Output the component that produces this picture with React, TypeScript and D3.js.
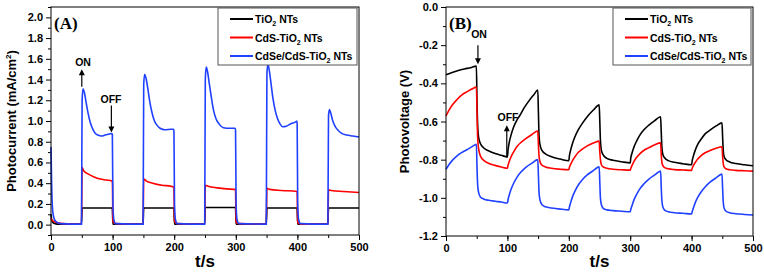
import React, { useEffect, useRef } from 'react';
import * as d3 from 'd3';

type Pt = [number, number];

const seriesNames = ['TiO2 NTs', 'CdS-TiO2 NTs', 'CdSe/CdS-TiO2 NTs'];
const seriesColors = ['#000000', '#ff0000', '#1f40ff'];

// Panel A: photocurrent (mA/cm2) vs t/s
const currentTiO2: Pt[] = [
  [0, 0.1], [1, 0.05], [3, 0.02], [6, 0.01], [10, 0.005], [49.5, 0.005], [50.5, 0.16], [99.5, 0.16],
  [100.5, 0.005], [149.5, 0.005], [150.5, 0.16], [199.5, 0.16], [200.5, 0.005], [249.5, 0.005],
  [250.5, 0.165], [299.5, 0.165], [300.5, 0.005], [349.5, 0.005], [350.5, 0.16], [399.5, 0.16],
  [400.5, 0.005], [449.5, 0.005], [450.5, 0.16], [500, 0.16],
];
const currentCdS: Pt[] = [
  [0, 0.06], [2, 0.04], [5, 0.03], [10, 0.02], [20, 0.01], [49.5, 0.005], [50.5, 0.55], [53, 0.52],
  [60, 0.49], [70, 0.46], [80, 0.44], [90, 0.43], [99, 0.42], [99.7, 0.41], [100.5, 0.03], [105, 0.01],
  [149.5, 0.005], [150.5, 0.44], [155, 0.42], [165, 0.4], [180, 0.38], [195, 0.37], [199.5, 0.36],
  [200.5, 0.03], [205, 0.01], [249.5, 0.005], [250.5, 0.38], [255, 0.37], [270, 0.355], [285, 0.345],
  [299.5, 0.34], [300.5, 0.02], [305, 0.01], [349.5, 0.005], [350.5, 0.35], [355, 0.34], [375, 0.33],
  [399.5, 0.32], [400.5, 0.02], [405, 0.005], [449.5, 0.005], [450.5, 0.335], [455, 0.33], [475, 0.32],
  [500, 0.31],
];
const currentCdSe: Pt[] = [
  [0, 0.75], [1, 0.4], [2, 0.2], [3, 0.12], [5, 0.06], [8, 0.03], [15, 0.01], [49.5, 0.005],
  [50.5, 1.2], [52, 1.31], [54, 1.28], [57, 1.18], [60, 1.08], [64, 0.98], [68, 0.92], [72, 0.88],
  [76, 0.865], [82, 0.855], [88, 0.865], [95, 0.875], [99, 0.88], [99.6, 0.87], [100.5, 0.2], [102, 0.05],
  [105, 0.01], [149.5, 0.005], [150.5, 1.35], [152, 1.45], [154, 1.42], [157, 1.32], [160, 1.2],
  [164, 1.08], [168, 1.0], [172, 0.96], [177, 0.93], [185, 0.915], [195, 0.92], [199, 0.92],
  [199.6, 0.9], [200.5, 0.2], [202, 0.05], [205, 0.01], [249.5, 0.005], [250.5, 1.4], [252, 1.52],
  [254, 1.48], [257, 1.36], [260, 1.24], [264, 1.1], [268, 1.02], [273, 0.97], [280, 0.935],
  [290, 0.93], [299, 0.93], [299.6, 0.91], [300.5, 0.2], [302, 0.05], [305, 0.01], [349.5, 0.005],
  [350.5, 1.45], [352, 1.55], [354, 1.5], [357, 1.37], [360, 1.23], [364, 1.1], [368, 1.02],
  [372, 0.97], [376, 0.945], [382, 0.95], [390, 0.975], [398, 0.995], [399, 1.0], [399.6, 0.98],
  [400.5, 0.2], [402, 0.05], [405, 0.01], [449.5, 0.005], [450.5, 1.05], [452, 1.11], [454, 1.08],
  [457, 1.01], [461, 0.95], [466, 0.91], [472, 0.88], [480, 0.865], [490, 0.855], [500, 0.845],
];

// Panel B: photovoltage (V) vs t/s
const voltageTiO2: Pt[] = [
  [0, -0.355], [10, -0.343], [20, -0.333], [30, -0.325], [40, -0.318], [49.5, -0.31],
  [50.5, -0.5], [51.5, -0.62], [53, -0.68], [56, -0.715], [62, -0.74], [70, -0.755], [80, -0.768], [90, -0.777], [100, -0.785],
  [101, -0.75], [103, -0.71], [106, -0.67], [110, -0.63], [115, -0.595], [120, -0.57], [128, -0.525], [136, -0.488], [143, -0.46], [149.5, -0.435],
  [150.5, -0.55], [151.5, -0.67], [153, -0.72], [156, -0.75], [162, -0.77], [172, -0.785], [186, -0.797], [200, -0.806],
  [201, -0.78], [203, -0.75], [206, -0.715], [210, -0.68], [216, -0.64], [222, -0.61], [230, -0.575], [240, -0.54], [249.5, -0.513],
  [250.5, -0.6], [251.5, -0.7], [253, -0.75], [256, -0.775], [262, -0.793], [272, -0.803], [286, -0.811], [300, -0.817],
  [301, -0.79], [303, -0.765], [306, -0.735], [310, -0.705], [316, -0.67], [322, -0.645], [330, -0.62], [340, -0.595], [349.5, -0.575],
  [350.5, -0.65], [351.5, -0.73], [353, -0.77], [356, -0.79], [362, -0.805], [372, -0.814], [386, -0.821], [400, -0.827],
  [401, -0.805], [403, -0.78], [406, -0.75], [410, -0.72], [416, -0.69], [422, -0.665], [430, -0.645], [440, -0.623], [449.5, -0.607],
  [450.5, -0.68], [451.5, -0.75], [453, -0.785], [456, -0.8], [462, -0.812], [472, -0.82], [486, -0.827], [500, -0.832],
];
const voltageCdS: Pt[] = [
  [0, -0.57], [5, -0.54], [10, -0.515], [18, -0.485], [26, -0.46], [34, -0.445], [42, -0.43], [49.5, -0.42],
  [50.5, -0.55], [51.5, -0.68], [53, -0.74], [56, -0.78], [62, -0.805], [70, -0.82], [80, -0.83], [90, -0.838], [100, -0.845],
  [101, -0.83], [103, -0.81], [106, -0.785], [110, -0.76], [116, -0.73], [122, -0.71], [130, -0.69], [140, -0.668], [149.5, -0.65],
  [150.5, -0.72], [151.5, -0.78], [153, -0.81], [156, -0.828], [162, -0.838], [172, -0.845], [186, -0.85], [200, -0.853],
  [201, -0.84], [203, -0.825], [206, -0.805], [210, -0.785], [216, -0.76], [222, -0.745], [230, -0.728], [240, -0.713], [249.5, -0.703],
  [250.5, -0.76], [251.5, -0.8], [253, -0.825], [256, -0.838], [262, -0.845], [272, -0.85], [286, -0.853], [300, -0.855],
  [301, -0.845], [303, -0.83], [306, -0.81], [310, -0.79], [316, -0.768], [322, -0.752], [330, -0.738], [340, -0.722], [349.5, -0.712],
  [350.5, -0.77], [351.5, -0.81], [353, -0.83], [356, -0.842], [362, -0.848], [372, -0.852], [386, -0.854], [400, -0.856],
  [401, -0.845], [403, -0.83], [406, -0.815], [410, -0.797], [416, -0.778], [422, -0.764], [430, -0.752], [440, -0.74], [449.5, -0.732],
  [450.5, -0.78], [451.5, -0.82], [453, -0.838], [456, -0.848], [462, -0.853], [472, -0.856], [486, -0.858], [500, -0.86],
];
const voltageCdSe: Pt[] = [
  [0, -0.85], [5, -0.825], [10, -0.805], [18, -0.78], [26, -0.762], [34, -0.748], [42, -0.733], [49.5, -0.72],
  [50.5, -0.84], [51.5, -0.93], [53, -0.97], [56, -0.995], [62, -1.007], [70, -1.013], [80, -1.018], [90, -1.022], [100, -1.027],
  [101, -1.01], [103, -0.985], [106, -0.955], [110, -0.925], [116, -0.89], [122, -0.865], [130, -0.84], [140, -0.818], [149.5, -0.8],
  [150.5, -0.88], [151.5, -0.97], [153, -1.01], [156, -1.035], [162, -1.047], [172, -1.053], [186, -1.059], [200, -1.063],
  [201, -1.048], [203, -1.025], [206, -0.995], [210, -0.965], [216, -0.93], [222, -0.905], [230, -0.88], [240, -0.857], [249.5, -0.838],
  [250.5, -0.92], [251.5, -1.0], [253, -1.035], [256, -1.055], [262, -1.063], [272, -1.067], [286, -1.07], [300, -1.073],
  [301, -1.06], [303, -1.04], [306, -1.012], [310, -0.985], [316, -0.952], [322, -0.928], [330, -0.903], [340, -0.88], [349.5, -0.86],
  [350.5, -0.94], [351.5, -1.01], [353, -1.045], [356, -1.065], [362, -1.073], [372, -1.078], [386, -1.081], [400, -1.085],
  [401, -1.072], [403, -1.052], [406, -1.025], [410, -0.998], [416, -0.967], [422, -0.943], [430, -0.918], [440, -0.895], [449.5, -0.876],
  [450.5, -0.95], [451.5, -1.02], [453, -1.055], [456, -1.07], [462, -1.078], [472, -1.083], [486, -1.087], [500, -1.09],
];

const xTicks = [0, 100, 200, 300, 400, 500];
const xMinorTicks = [0, 50, 100, 150, 200, 250, 300, 350, 400, 450, 500];
const currentTicks = [0, 0.2, 0.4, 0.6, 0.8, 1.0, 1.2, 1.4, 1.6, 1.8, 2.0];
const currentMinorTicks = [-0.1, 0.1, 0.3, 0.5, 0.7, 0.9, 1.1, 1.3, 1.5, 1.7, 1.9, 2.1];
const voltageTicks = [0, -0.2, -0.4, -0.6, -0.8, -1.0, -1.2];
const voltageMinorTicks = [-0.1, -0.3, -0.5, -0.7, -0.9, -1.1];

interface Arrow { t: number; v0: number; v1: number; tx: number; ty: number }
interface PanelCfg {
  left: number; right: number; top: number; bottom: number;
  yDomain: [number, number];
  yTicks: number[]; yMinor: number[];
  yTitle: string; yTitleX: number;
  label: string;
  series: Pt[][];
  legendX: number;
  onArrow: Arrow;
  offArrow: Arrow;
}

const FONT = 'Liberation Sans, Arial, sans-serif';

const drawPanel = (svg: d3.Selection<SVGSVGElement, unknown, null, undefined>, c: PanelCfg) => {
  const x = d3.scaleLinear().domain([0, 500]).range([c.left, c.right]);
  const y = d3.scaleLinear().domain(c.yDomain).range([c.bottom, c.top]);
  const g = svg.append('g');

  // minor ticks
  g.append('g').attr('transform', `translate(0,${c.bottom})`)
    .call(d3.axisBottom(x).tickValues(xMinorTicks).tickSize(3).tickFormat(() => ''))
    .call(a => a.select('.domain').remove());
  g.append('g').attr('transform', `translate(${c.left},0)`)
    .call(d3.axisLeft(y).tickValues(c.yMinor).tickSize(3).tickFormat(() => ''))
    .call(a => a.select('.domain').remove());

  // major ticks
  const xa = g.append('g').attr('transform', `translate(0,${c.bottom})`)
    .call(d3.axisBottom(x).tickValues(xTicks).tickSize(5).tickPadding(3).tickFormat(d => String(d)));
  xa.select('.domain').remove();
  const ya = g.append('g').attr('transform', `translate(${c.left},0)`)
    .call(d3.axisLeft(y).tickValues(c.yTicks).tickSize(5).tickPadding(3).tickFormat(d => (+d).toFixed(1)));
  ya.select('.domain').remove();
  g.selectAll('.tick text').attr('font-family', FONT).attr('font-weight', 'bold').attr('font-size', 11).attr('fill', '#000');
  g.selectAll('.tick line').attr('stroke', '#000').attr('stroke-width', 1);

  // lines
  const line = d3.line<Pt>().x(d => x(d[0])).y(d => y(d[1])).curve(d3.curveMonotoneX);
  c.series.forEach((s, i) => {
    g.append('path').attr('d', line(s) as string).attr('fill', 'none')
      .attr('stroke', seriesColors[i]).attr('stroke-width', 1.6);
  });

  // frame
  g.append('rect').attr('x', c.left).attr('y', c.top)
    .attr('width', c.right - c.left).attr('height', c.bottom - c.top)
    .attr('fill', 'none').attr('stroke', '#000').attr('stroke-width', 1);

  // titles
  g.append('text').attr('x', (c.left + c.right) / 2).attr('y', 267)
    .attr('text-anchor', 'middle').attr('font-family', FONT).attr('font-weight', 'bold')
    .attr('font-size', 17).text('t/s');
  const yt = g.append('text')
    .attr('transform', `translate(${c.yTitleX},${(c.top + c.bottom) / 2}) rotate(-90)`)
    .attr('text-anchor', 'middle').attr('font-family', FONT).attr('font-weight', 'bold')
    .attr('font-size', 13);
  if (c.yTitle === 'current') {
    yt.append('tspan').text('Photocurrent (mA/cm');
    yt.append('tspan').attr('font-size', 8).attr('dy', -5).text('2');
    yt.append('tspan').attr('dy', 5).text(')');
  } else {
    yt.text(c.yTitle);
  }
  g.append('text').attr('x', c.left + 3).attr('y', c.top + 22)
    .attr('font-family', 'Liberation Serif, Times New Roman, serif').attr('font-weight', 'bold')
    .attr('font-size', 17).text(c.label);

  // legend
  const lx = c.legendX, lw = c.right - 2 - lx;
  g.append('rect').attr('x', lx).attr('y', c.top + 1).attr('width', lw).attr('height', 57)
    .attr('fill', '#fff').attr('stroke', '#555').attr('stroke-width', 1);
  seriesNames.forEach((name, i) => {
    const ry = c.top + 12 + i * 18.5;
    g.append('line').attr('x1', lx + 12).attr('x2', lx + 35).attr('y1', ry).attr('y2', ry)
      .attr('stroke', seriesColors[i]).attr('stroke-width', 2);
    const t = g.append('text').attr('x', lx + 37).attr('y', ry + 4)
      .attr('font-family', FONT).attr('font-weight', 'bold').attr('font-size', 10.5);
    const [pre, post] = name.split('2');
    t.append('tspan').text(pre);
    t.append('tspan').attr('font-size', 7).attr('dy', 3).text('2');
    t.append('tspan').attr('dy', -3).text(post);
  });

  // annotations
  const arrow = (a: Arrow, text: string) => {
    const ax = x(a.t), y0 = y(a.v0), y1 = y(a.v1);
    const dir = y1 > y0 ? 1 : -1;
    g.append('line').attr('x1', ax).attr('x2', ax).attr('y1', y0).attr('y2', y1 - dir * 5)
      .attr('stroke', '#000').attr('stroke-width', 1.2);
    g.append('path')
      .attr('d', `M${ax - 3},${y1 - dir * 6}L${ax + 3},${y1 - dir * 6}L${ax},${y1}Z`)
      .attr('fill', '#000');
    g.append('text').attr('x', a.tx).attr('y', a.ty).attr('text-anchor', 'middle')
      .attr('font-family', FONT).attr('font-weight', 'bold').attr('font-size', 10.5).text(text);
  };
  arrow(c.onArrow, 'ON');
  arrow(c.offArrow, 'OFF');
};

const App = () => {
  const ref = useRef<SVGSVGElement | null>(null);

  useEffect(() => {
    if (!ref.current) return;
    const svg = d3.select(ref.current);
    svg.selectAll('*').remove();
    svg.append('rect').attr('width', 764).attr('height', 273).attr('fill', '#fff');

    drawPanel(svg, {
      left: 51, right: 359, top: 7, bottom: 235,
      yDomain: [-0.1, 2.1], yTicks: currentTicks, yMinor: currentMinorTicks,
      yTitle: 'current', yTitleX: 16, label: '(A)',
      series: [currentTiO2, currentCdS, currentCdSe],
      legendX: 218,
      onArrow: { t: 50, v0: 1.33, v1: 1.5, tx: 83, ty: 66 },
      offArrow: { t: 98, v0: 1.15, v1: 0.89, tx: 111, ty: 103 },
    });
    drawPanel(svg, {
      left: 446, right: 753, top: 7, bottom: 236,
      yDomain: [-1.2, 0], yTicks: voltageTicks, yMinor: voltageMinorTicks,
      yTitle: 'Photovoltage (V)', yTitleX: 409, label: '(B)',
      series: [voltageTiO2, voltageCdS, voltageCdSe],
      legendX: 613,
      onArrow: { t: 52, v0: -0.2, v1: -0.3, tx: 479, ty: 38 },
      offArrow: { t: 99, v0: -0.79, v1: -0.62, tx: 508, ty: 121 },
    });
  }, []);

  return (
    <svg ref={ref} width={764} height={273}
      style={{ position: 'absolute', left: 0, top: 0, display: 'block' }} />
  );
};

export default App;
